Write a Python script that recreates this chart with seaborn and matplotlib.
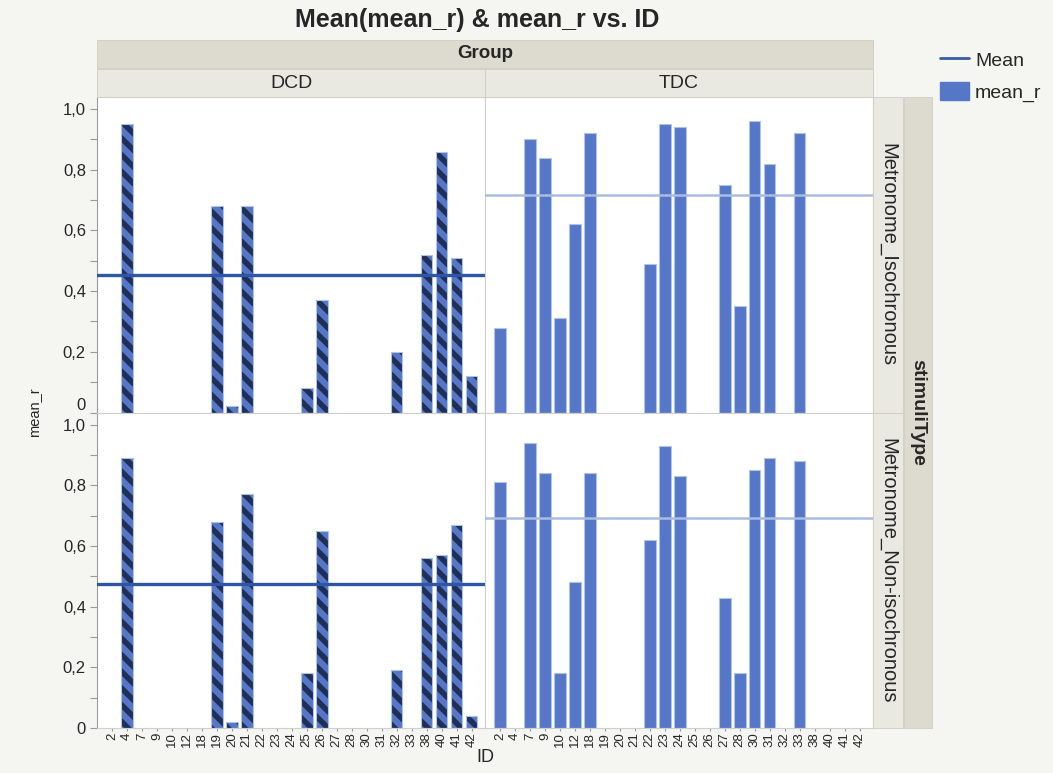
import numpy as np
import pandas as pd
import matplotlib
matplotlib.use('Agg')
import matplotlib.pyplot as plt
from matplotlib.patches import Rectangle, Patch
from matplotlib.lines import Line2D
import seaborn as sns

# category axis (shared by every panel)
ids = ['2', '4', '7', '9', '10', '12', '18', '19', '20', '21', '22', '23', '24',
       '25', '26', '27', '28', '30', '31', '32', '33', '38', '40', '41', '42']

dcd_ids = ['4', '19', '20', '21', '25', '26', '32', '38', '40', '41', '42']
dcd_iso = [0.95, 0.68, 0.02, 0.68, 0.08, 0.37, 0.20, 0.52, 0.86, 0.51, 0.12]
dcd_non = [0.89, 0.68, 0.02, 0.77, 0.18, 0.65, 0.19, 0.56, 0.57, 0.67, 0.04]

tdc_ids = ['2', '7', '9', '10', '12', '18', '22', '23', '24', '27', '28', '30', '31', '33']
tdc_iso = [0.28, 0.90, 0.84, 0.31, 0.62, 0.92, 0.49, 0.95, 0.94, 0.75, 0.35, 0.96, 0.82, 0.92]
tdc_non = [0.81, 0.94, 0.84, 0.18, 0.48, 0.84, 0.62, 0.93, 0.83, 0.43, 0.18, 0.85, 0.89, 0.88]

groups = ['DCD', 'TDC']
stimuli = ['Metronome_Isochronous', 'Metronome_Non-isochronous']

frames = []
for grp, gid, iso, non in [('DCD', dcd_ids, dcd_iso, dcd_non), ('TDC', tdc_ids, tdc_iso, tdc_non)]:
    frames.append(pd.DataFrame({'ID': gid, 'mean_r': iso, 'Group': grp, 'stimuliType': stimuli[0]}))
    frames.append(pd.DataFrame({'ID': gid, 'mean_r': non, 'Group': grp, 'stimuliType': stimuli[1]}))
df = pd.concat(frames, ignore_index=True)

# style
sns.set_style('white')
plt.rcParams['font.family'] = ['Liberation Sans', 'DejaVu Sans']
plt.rcParams['hatch.linewidth'] = 4.0

BLUE = '#5677C7'
NAVY = '#1F2F58'
EDGE = '#AFC2E8'
BG = '#F5F5F2'
STRIP_DARK = '#DDDBD0'
STRIP_LIGHT = '#E9E8E1'
mean_colors = {'DCD': ('#2E55A6', 2.4), 'TDC': ('#A9BCE2', 1.8)}

W, H = 1053, 773
fig = plt.figure(figsize=(W / 100, H / 100), dpi=100, facecolor=BG)


def fx(x):
    return x / W


def fy(y):
    return 1 - y / H


def strip(x0, y0, x1, y1, color):
    fig.patches.append(Rectangle((fx(x0), fy(y1)), fx(x1) - fx(x0), fy(y0) - fy(y1),
                                 transform=fig.transFigure, facecolor=color,
                                 edgecolor='#CFCDC2', linewidth=0.6, zorder=0))


left, top, pw, ph = 97, 97, 388, 315.5

for r, stim in enumerate(stimuli):
    for c, grp in enumerate(groups):
        x0 = left + c * pw
        y0 = top + r * ph
        ax = fig.add_axes([fx(x0), fy(y0 + ph), pw / W, ph / H])
        sub = df[(df['Group'] == grp) & (df['stimuliType'] == stim)]
        if grp == 'DCD':
            sns.barplot(data=sub, x='ID', y='mean_r', order=ids, ax=ax, color=BLUE,
                        saturation=1, width=0.78, errorbar=None,
                        hatch='\\\\', edgecolor=NAVY, linewidth=0)
            for p in list(ax.patches):
                ax.add_patch(Rectangle(p.get_xy(), p.get_width(), p.get_height(),
                                       fill=False, edgecolor=EDGE, linewidth=0.8))
        else:
            sns.barplot(data=sub, x='ID', y='mean_r', order=ids, ax=ax, color=BLUE,
                        saturation=1, width=0.78, errorbar=None,
                        edgecolor=EDGE, linewidth=0.8)
        col, lw = mean_colors[grp]
        ax.axhline(sub['mean_r'].mean(), color=col, linewidth=lw, zorder=5)

        ax.set_facecolor('white')
        ax.set_xlim(-1, 24.9)
        ax.set_ylim(0, 1.04)
        ax.set_xlabel('')
        ax.set_ylabel('')
        for s in ax.spines.values():
            s.set_color('#CFCFCF')
            s.set_linewidth(0.8)
        if c == 0:
            ax.spines['left'].set_color('#9A9A9A')
            ax.set_yticks(np.arange(0, 1.01, 0.2))
            ax.set_yticklabels(['0', '0,2', '0,4', '0,6', '0,8', '1,0'])
            ax.set_yticks(np.arange(0.1, 1.0, 0.2), minor=True)
            ax.tick_params(axis='y', which='both', left=True, length=5, width=0.8,
                           color='#9A9A9A', labelsize=12, pad=3)
            if r == 0:
                ax.get_yticklabels()[0].set_va('bottom')
        else:
            ax.set_yticks([])
        if r == 1:
            ax.tick_params(axis='x', bottom=True, length=2, color='#9A9A9A',
                           labelsize=9.5, rotation=90, pad=1)
        else:
            ax.set_xticks([])

# header strips
strip(97, 40, 873, 68, STRIP_DARK)
fig.text(fx(485), fy(54), 'Group', ha='center', va='center', fontsize=13.5, fontweight='bold')
for c, grp in enumerate(groups):
    strip(97 + c * pw, 69, 97 + (c + 1) * pw, 97, STRIP_LIGHT)
    fig.text(fx(97 + c * pw + pw / 2), fy(83), grp, ha='center', va='center', fontsize=14)

# side strips
strip(904, 97, 932, 728, STRIP_DARK)
fig.text(fx(918), fy(412), 'stimuliType', ha='center', va='center', rotation=-90,
         fontsize=14, fontweight='bold')
for r, stim in enumerate(stimuli):
    strip(873, 97 + r * ph, 903, 97 + (r + 1) * ph, STRIP_LIGHT)
    fig.text(fx(888), fy(97 + r * ph + ph / 2), stim, ha='center', va='center',
             rotation=-90, fontsize=14.5)

# titles and labels
fig.text(fx(477), fy(20), 'Mean(mean_r) & mean_r vs. ID', ha='center', va='center',
         fontsize=18, fontweight='bold')
fig.text(fx(35), fy(412), 'mean_r', ha='center', va='center', rotation=90, fontsize=10.5)
fig.text(fx(485), fy(758), 'ID', ha='center', va='center', fontsize=13)

# legend
handles = [Line2D([0], [0], color='#3A5BA8', linewidth=2),
           Patch(facecolor=BLUE, edgecolor=BLUE)]
fig.legend(handles, ['Mean', 'mean_r'], loc='upper left',
           bbox_to_anchor=(fx(940), fy(50)), frameon=False, fontsize=14,
           borderpad=0, borderaxespad=0,
           handlelength=1.5, handleheight=1.1, handletextpad=0.3, labelspacing=0.6)

fig.savefig('out.png', dpi=100, facecolor=BG)
